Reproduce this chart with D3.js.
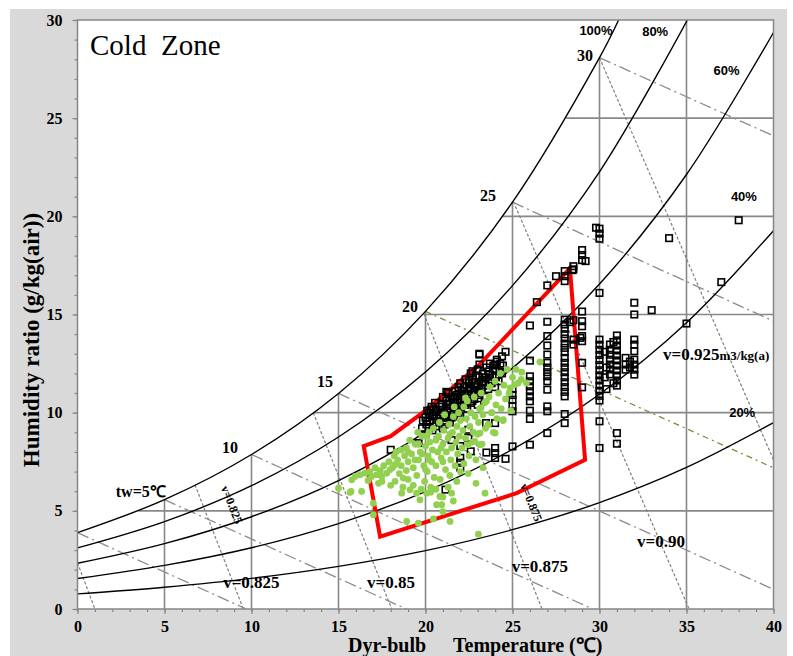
<!DOCTYPE html>
<html>
<head>
<meta charset="utf-8">
<script src="https://cdn.jsdelivr.net/npm/d3@7"></script>
<style>
  body { margin: 0; background: #fff; }
  text { font-family: "Liberation Serif", "Times New Roman", serif; }
</style>
</head>
<body>
<div id="chart"></div>
<script>
// relative humidity curves [dry-bulb C, humidity ratio g/kg]
const rh100 = [[0,3.89],[5,5.57],[10,7.87],[15,10.98],[20,15.16],[25,20.72],[30,28.08],[31.1,30]];
const rh80 = [[0,3.11],[5,4.45],[10,6.28],[15,8.76],[20,12.07],[25,16.47],[30,22.27],[35.05,30]];
const rh60 = [[0,2.33],[5,3.33],[10,4.70],[15,6.54],[20,9.01],[25,12.27],[30,16.55],[35,22.13],[40,29.36]];
const rh40 = [[0,1.55],[5,2.22],[10,3.12],[15,4.35],[20,5.98],[25,8.13],[30,10.94],[35,14.58],[40,19.27]];
const rh20 = [[0,0.77],[5,1.11],[10,1.56],[15,2.17],[20,2.97],[25,4.04],[30,5.42],[35,7.21],[40,9.49]];
const rhCurves = [rh100, rh80, rh60, rh40, rh20];

// wet-bulb lines (start on saturation, end)
const wetBulb = [
  [[0,3.89],[9.7,0]],
  [[5,5.57],[18.9,0]],
  [[10,7.87],[29.6,0]],
  [[15,10.98],[40,1.0]],
  [[20,15.16],[40,7.19]],
  [[25,20.72],[40,14.66]],
  [[30,28.08],[40,24.1]]
];
const wetBulbOlive = 4;

// specific volume lines
const volume = [
  [[0,2.35],[1.0,0]],
  [[6.75,6.33],[9.53,0]],
  [[13.55,10.0],[18.06,0]],
  [[19.9,15.05],[26.7,0]],
  [[25.05,20.75],[35.15,0]],
  [[30,28.08],[40,7.6]]
];

// partial grid: vertical [t, top W], horizontal [W, start t]
const gridV = [[5,5.57],[10,7.87],[15,10.98],[20,15.16],[25,20.72],[30,28.08],[35,30]];
const gridH = [[5,3.5],[10,13.58],[15,19.9],[20,24.45],[25,28.08]];

// comfort zone polygon
const zone = [[16.45,8.3],[18.0,8.8],[20.0,10.1],[23.1,12.45],[28.3,17.35],[29.17,7.6],[25.24,5.9],[17.39,3.69]];

// measured points: open squares
const squarePts = [
  [29.8,19.42],[30.0,19.37],[30.0,19.12],[30.0,18.86],
  [29.0,18.28],[29.0,18.03],[29.0,17.77],[29.2,17.72],
  [28.5,17.46],[28.5,17.3],[28.45,17.26],
  [28.0,17.21],[28.0,16.95],[28.0,16.7],
  [27.5,16.95],[27.0,16.48],[26.4,15.63],
  [30.0,16.1],[29.0,15.15],[27.0,14.63],[26.0,14.44],
  [28.3,14.61],[28.5,14.71],[29.0,14.66],[29.0,14.4],
  [34.0,18.89],[38.0,19.8],[37.0,16.65],[32.0,15.6],[32.0,15.0],[33.0,15.22],[35.0,14.54],
  [28.9,13.81],[29.0,12.54],[29.0,11.29],[28.5,13.72],[28.5,13.47],[29.0,13.9],[29.0,13.64],
  [28,14.74],[28,14.49],[28,14.27],[28,14.0],[28,13.78],[28,13.52],[28,13.3],[28,13.08],[28,12.79],
  [28,12.54],[28,12.3],[28,12.06],[28,11.8],[28,11.55],[28,11.3],[28,11.06],[28,10.83],[28,9.93],[28,9.47],
  [27,13.9],[27,13.42],[27,12.96],[27,12.54],[27,12.3],[27,12.06],[27,11.85],[27,11.6],[27,11.17],
  [27,10.32],[27,10.07],[27,8.96],
  [26,12.65],[26,11.85],[26,11.6],[26,11.34],[26,11.09],[26,10.83],[26,10.58],[26,10.1],[26,9.68],[26,8.37],
  [25,11.2],[25,10.9],[25,10.66],[25,10.32],[25,10.07],[25,8.28],
  [24.6,13.1],[24.4,12.87],[23.1,12.96],[23.1,12.45],[24.1,12.6],[24.0,12.45],
  [30,13.72],[30,13.46],[30,13.2],[30,12.94],[30,12.68],[30,12.42],[30,12.16],[30,11.9],[30,11.64],
  [30,11.38],[30,11.12],[30,10.86],[30,10.62],[30,9.56],[30,8.2],
  [30.6,13.47],[30.6,13.2],[30.6,12.95],[30.6,12.7],[30.6,12.45],[30.6,12.2],[30.6,11.95],
  [31,13.93],[31,13.68],[31,13.42],[31,13.17],[31,12.91],[31,12.66],[31,12.4],[31,12.15],[31,11.89],
  [31,11.64],[31,11.38],[31,8.96],[31,8.42],
  [30.3,13.1],[30.4,12.3],[30.3,11.8],[30.8,13.6],[30.8,11.5],[30.4,11.2],
  [31.5,12.79],[31.5,12.45],[31.5,12.19],[31.75,12.6],[31.75,12.3],
  [32,13.72],[32,13.47],[32,13.13],[32,12.7],[32,12.45],[32,12.19],[32,11.94],
  [24.0,8.2],[24.0,7.94],[24.0,7.69],[24.6,7.65],[23.5,7.97],[23.48,9.47],[24.0,9.47],
  [22.0,7.7],[22.0,7.45],[22.0,7.2],[22.6,8.03],[21.15,6.08],[19.6,8.45],[18.0,8.11],
  [22.46,8.71],[22.46,9.13],[22.0,8.3],[21.5,8.6],
  [23.1,13.0],[22.7,12.11],[22.5,11.6],[21.2,11.06],[21.7,10.83],[20.3,10.15],
  [19.8,9.2],[19.85,9.6],
  [20.0,8.9],[20.05,9.4],[20.0,9.75],[20.1,10.1],
  [20.2,9.2],[20.25,9.6],[20.2,10.0],
  [20.4,9.1],[20.45,9.5],[20.4,9.9],[20.35,10.3],
  [20.6,9.3],[20.65,9.7],[20.6,10.1],[20.55,10.5],
  [20.8,9.5],[20.85,9.9],[20.8,10.3],
  [21.0,9.2],[21.05,9.6],[21.0,10.0],[20.95,10.4],[21.0,10.8],
  [21.2,9.8],[21.25,10.2],[21.2,10.6],[21.3,11.0],
  [21.4,9.5],[21.45,10.0],[21.4,10.4],[21.5,10.8],
  [21.6,9.9],[21.65,10.3],[21.6,10.7],[21.7,11.1],
  [21.8,10.1],[21.85,10.5],[21.8,10.9],[21.9,11.3],
  [22.0,9.8],[22.05,10.3],[22.0,10.7],[22.1,11.1],[22.0,11.5],
  [22.2,10.5],[22.25,10.9],[22.2,11.3],[22.3,11.7],
  [22.4,10.2],[22.45,10.7],[22.4,11.1],[22.5,11.5],
  [22.6,10.5],[22.65,10.9],[22.6,11.3],[22.7,11.7],[22.6,12.0],
  [22.8,10.7],[22.85,11.1],[22.8,11.5],[22.9,11.9],
  [23.0,10.4],[23.05,11.0],[23.0,11.4],[23.1,11.8],[23.0,12.2],
  [23.2,11.2],[23.25,11.6],[23.3,12.0],
  [23.4,10.8],[23.45,11.4],[23.4,11.8],[23.5,12.3],
  [23.6,11.2],[23.65,11.7],[23.6,12.1],[23.7,12.5],
  [23.8,11.5],[23.85,11.9],[23.9,12.4],
  [24.0,11.3],[24.05,11.8],[24.0,12.2],[24.1,12.7],
  [24.2,11.6],[24.25,12.1],[24.3,12.5],
  [24.4,12.0],[24.45,12.4],
  [20.1,9.55],[20.5,9.8],[20.9,10.15],[21.3,10.45],[21.7,10.55],[22.1,10.85],[22.5,11.2],[22.9,11.3],
  [23.3,11.55],[23.7,11.95],[21.1,9.4],[21.5,9.75],[21.9,10.0],[22.3,10.4],[22.7,10.6],[23.1,10.9]
];

// measured points: filled circles
const circlePts = [
  [15.0,6.15],[15.66,5.94],[15.76,6.58],[15.95,6.75],[16.24,6.84],[16.52,6.92],[16.9,6.75],[17.2,6.84],
  [17.48,6.75],[17.77,6.92],[17.96,7.09],[18.25,7.35],[18.25,6.5],[18.72,6.67],[15.72,5.99],[16.33,5.99],
  [17.0,5.39],[17.0,4.8],[18.63,5.9],[19.11,6.07],[19.49,5.9],[20.07,5.9],[20.83,5.73],[21.5,5.9],
  [20.93,5.31],[20.64,5.31],[23.42,5.9],[18.92,4.46],[19.59,4.37],[20.45,4.59],[21.41,4.46],[23.04,3.81],
  [19.68,5.56],[21.0,4.96],[26.58,12.58],[25.53,12.06],[25.8,11.51],[25.33,11.51],[25.14,11.43],[24.86,11.26],
  [16.8,7.0],[17.1,7.2],[17.4,7.05],[17.6,7.3],[17.9,7.5],[18.1,7.2],[18.4,7.6],[18.6,7.3],[18.8,7.8],
  [18.5,6.9],[18.9,7.05],[17.5,6.5],[16.7,6.55],[17.3,6.4],[18.0,6.3],[18.7,6.2],[19.0,6.6],[18.3,8.0],
  [18.9,8.2],[19.0,7.5],
  [19.2,7.9],[19.3,7.2],[19.4,8.4],[19.5,6.8],[19.6,7.6],[19.7,8.0],[19.8,8.8],[19.9,7.3],[19.95,6.5],
  [20.0,8.3],[20.1,7.0],[20.15,7.8],[20.2,9.0],[20.25,8.5],[20.3,6.2],[20.35,7.5],[20.4,8.1],[20.45,9.2],
  [20.5,6.7],[19.3,6.3],[19.1,8.6],[19.55,9.0],[20.05,8.8],[19.75,6.1],[20.3,5.95],
  [20.6,7.3],[20.7,8.0],[20.75,8.8],[20.8,9.5],[20.85,6.6],[20.9,7.7],[21.0,8.4],[21.05,9.1],[21.1,9.9],
  [21.15,7.1],[21.2,8.0],[21.3,8.7],[21.35,9.4],[21.4,6.8],[21.45,7.6],[21.5,8.2],[21.55,9.0],[21.6,9.8],
  [21.65,10.3],[21.7,7.3],[21.75,8.5],[21.8,9.3],[21.85,7.9],[21.9,10.0],[21.95,8.8],[22.0,9.6],[21.3,6.2],
  [21.8,6.5],[22.0,7.0],[20.6,6.1],[21.0,5.7],[21.6,5.5],
  [22.1,8.2],[22.15,9.1],[22.2,10.3],[22.3,8.7],[22.35,9.7],[22.4,10.6],[22.5,7.8],[22.55,9.3],[22.6,10.0],
  [22.7,8.5],[22.75,9.0],[22.8,10.8],[22.85,9.8],[22.9,7.6],[23.0,8.9],[23.05,9.5],[23.1,10.2],[23.2,11.0],
  [23.25,8.4],[23.3,9.9],[23.4,10.5],[23.45,9.2],[22.45,6.9],[22.2,7.4],[22.9,6.4],[23.3,7.2],
  [23.6,9.4],[23.65,10.8],[23.7,11.3],[23.8,10.0],[23.9,9.0],[24.0,11.6],[24.05,10.4],[24.1,9.7],[24.2,11.0],
  [24.3,12.0],[24.35,10.2],[24.45,9.6],[24.5,11.4],[24.6,10.7],[24.7,12.2],[24.8,11.0],[24.9,10.1],[25.0,11.8],
  [25.2,12.2],[25.5,11.7],[24.0,8.96],[23.13,8.96],[23.13,8.37],[22.84,8.54],[22.46,8.37],[23.61,9.39],[24.47,9.64],
  [18.2,7.8],[18.6,8.1],[19.0,8.0],[19.4,7.6],[19.8,7.9],[20.2,7.6],[20.6,8.6],[21.0,7.5],[21.4,8.9],
  [19.6,8.4],[20.0,7.1],[20.9,8.2],[22.3,10.75],[23.5,10.58],[23.2,10.25],[23.8,10.0]
];

// labels [text, t, W]
const rhLabels = [["100%",29.8,29.25],["80%",33.2,29.2],["60%",37.3,27.2],["40%",38.3,20.8],["20%",38.2,9.8]];
const twLabels = [["tw=5\u2103",2.2,5.7],["10",8.3,7.96],["15",13.76,11.33],["20",18.65,15.15],["25",23.13,20.77],["30",28.71,27.91]];
const vLabels = [["v=0.825",8.37,1.07],["v=0.85",16.64,1.07],["v=0.875",24.95,1.89],["v=0.90",32.16,3.16]];
const vRotLabels = [["v=0.825",8.88,5.31],["v=0.875",26.09,5.43]];
const xTicks = d3.range(0, 41, 5);
const yTicks = d3.range(0, 31, 5);

const width = 793, height = 656;
const x = d3.scaleLinear().domain([0, 40]).range([77.5, 773.5]);
const y = d3.scaleLinear().domain([0, 30]).range([609, 20]);

const svg = d3.select("#chart").append("svg")
  .attr("width", width).attr("height", height);

svg.append("rect").attr("x", 10).attr("y", 9).attr("width", 777).attr("height", 647).attr("fill", "#d9d9d9");
svg.append("rect").attr("x", x(0)).attr("y", y(30)).attr("width", x(40) - x(0)).attr("height", y(0) - y(30))
  .attr("fill", "#fff");

svg.append("clipPath").attr("id", "plot").append("rect")
  .attr("x", x(0)).attr("y", y(30)).attr("width", x(40) - x(0)).attr("height", y(0) - y(30));

const g = svg.append("g").attr("clip-path", "url(#plot)");
const gridColor = "#888";

// grid
g.selectAll(".gv").data(gridV).join("line")
  .attr("x1", d => x(d[0])).attr("x2", d => x(d[0]))
  .attr("y1", y(0)).attr("y2", d => y(d[1]))
  .attr("stroke", gridColor).attr("stroke-width", 1.6);
g.selectAll(".gh").data(gridH).join("line")
  .attr("x1", d => x(d[1])).attr("x2", x(40))
  .attr("y1", d => y(d[0])).attr("y2", d => y(d[0]))
  .attr("stroke", gridColor).attr("stroke-width", 1.6);

const line = d3.line().x(d => x(d[0])).y(d => y(d[1]));

// specific volume lines
g.selectAll(".vol").data(volume).join("path")
  .attr("d", line).attr("fill", "none")
  .attr("stroke", "#7f7f7f").attr("stroke-width", 1.2).attr("stroke-dasharray", "3,2");

// wet bulb lines
g.selectAll(".wb").data(wetBulb).join("path")
  .attr("d", line).attr("fill", "none")
  .attr("stroke", (d, i) => i === wetBulbOlive ? "#77933c" : "#8c8c8c")
  .attr("stroke-width", 1.3)
  .attr("stroke-dasharray", (d, i) => i === wetBulbOlive ? "6,4,2,4" : "12,4,2,4");

// RH curves
const curve = d3.line().x(d => x(d[0])).y(d => y(d[1])).curve(d3.curveCatmullRom);
g.selectAll(".rh").data(rhCurves).join("path")
  .attr("d", curve).attr("fill", "none")
  .attr("stroke", "#000").attr("stroke-width", 1.4);

// comfort zone
g.append("path").datum(zone)
  .attr("d", d => line(d) + "Z")
  .attr("fill", "none").attr("stroke", "#ff0000").attr("stroke-width", 4);

// points
const s = 6.5;
g.selectAll(".sq").data(squarePts).join("rect")
  .attr("x", d => x(d[0]) - s / 2).attr("y", d => y(d[1]) - s / 2)
  .attr("width", s).attr("height", s)
  .attr("fill", "none").attr("stroke", "#000").attr("stroke-width", 1.6);
g.selectAll(".ci").data(circlePts).join("circle")
  .attr("cx", d => x(d[0])).attr("cy", d => y(d[1])).attr("r", 3.4)
  .attr("fill", "#92d050");

// border
svg.append("rect").attr("x", x(0)).attr("y", y(30)).attr("width", x(40) - x(0)).attr("height", y(0) - y(30))
  .attr("fill", "none").attr("stroke", "#868686").attr("stroke-width", 1.5);

// axes
function styleAxis(sel) {
  sel.select(".domain").remove();
  sel.selectAll("line").attr("stroke", "#868686").attr("stroke-width", 1.2);
  sel.selectAll("text").attr("font-family", "Liberation Serif, serif")
    .attr("font-weight", "bold").attr("font-size", 16).attr("fill", "#000");
}
svg.append("g").attr("transform", `translate(0,${y(0)})`)
  .call(d3.axisBottom(x).tickValues(d3.range(0, 41, 1)).tickSize(3).tickFormat(""))
  .call(styleAxis);
svg.append("g").attr("transform", `translate(0,${y(0)})`)
  .call(d3.axisBottom(x).tickValues(xTicks).tickSize(5).tickPadding(7).tickFormat(d3.format("d")))
  .call(styleAxis);
svg.append("g").attr("transform", `translate(${x(0)},0)`)
  .call(d3.axisLeft(y).tickValues(d3.range(0, 31, 1)).tickSize(3).tickFormat(""))
  .call(styleAxis);
svg.append("g").attr("transform", `translate(${x(0)},0)`)
  .call(d3.axisLeft(y).tickValues(yTicks).tickSize(5).tickPadding(10).tickFormat(d3.format("d")))
  .call(styleAxis);

// labels
const lab = svg.append("g");
lab.selectAll(".rhl").data(rhLabels).join("text")
  .attr("x", d => x(d[1])).attr("y", d => y(d[2]))
  .attr("text-anchor", "middle")
  .style("font-family", "Liberation Sans, Arial, sans-serif")
  .attr("font-weight", "bold").attr("font-size", 13)
  .text(d => d[0]);
lab.selectAll(".twl").data(twLabels).join("text")
  .attr("x", d => x(d[1])).attr("y", d => y(d[2]))
  .attr("font-weight", "bold").attr("font-size", 16)
  .text(d => d[0]);
lab.selectAll(".vl").data(vLabels).join("text")
  .attr("x", d => x(d[1])).attr("y", d => y(d[2]))
  .attr("font-weight", "bold").attr("font-size", 17)
  .text(d => d[0]);
lab.selectAll(".vr").data(vRotLabels).join("text")
  .attr("transform", d => `translate(${x(d[1])},${y(d[2])}) rotate(68)`)
  .attr("text-anchor", "middle").attr("dy", "0.35em")
  .attr("font-weight", "bold").attr("font-size", 12)
  .text(d => d[0]);

const v925 = lab.append("text").attr("x", x(33.65)).attr("y", y(12.7))
  .attr("font-weight", "bold").attr("font-size", 17);
v925.append("tspan").text("v=0.925");
v925.append("tspan").attr("font-size", 13).text("m3/kg(a)");

svg.append("text").attr("x", x(0.72)).attr("y", y(28.2))
  .attr("font-size", 29).style("white-space", "pre").text("Cold  Zone");

svg.append("text")
  .attr("transform", `translate(39,340) rotate(-90)`)
  .attr("text-anchor", "middle").attr("font-weight", "bold").attr("font-size", 23)
  .text("Humidity ratio (g/kg(air))");
svg.append("text").attr("x", 348).attr("y", 652)
  .attr("font-weight", "bold").attr("font-size", 20).text("Dyr-bulb");
svg.append("text").attr("x", 453).attr("y", 652)
  .attr("font-weight", "bold").attr("font-size", 20).text("Temperature (\u2103)");
</script>
</body>
</html>
